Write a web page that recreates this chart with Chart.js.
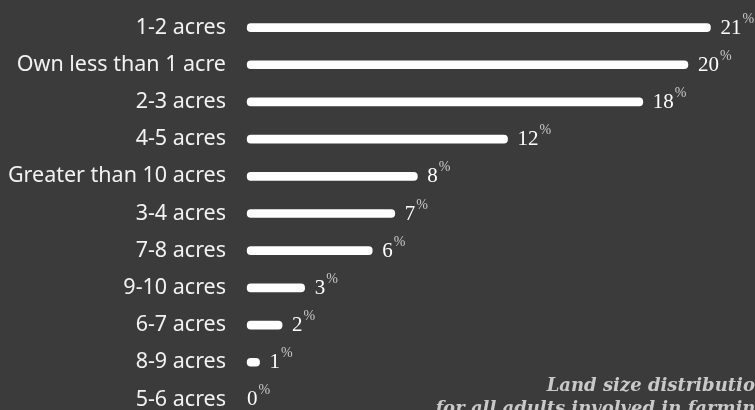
<!DOCTYPE html>
<html>
<head>
<meta charset="utf-8">
<script src="https://cdn.jsdelivr.net/npm/chart.js@4"></script>
<style>
  html, body { margin: 0; padding: 0; background: #3b3b3b; overflow: hidden; }
  #wrap { width: 755px; height: 430px; position: relative; }
</style>
</head>
<body>
<div id="wrap"><canvas id="landChart"></canvas></div>
<script>
// Land size categories, sorted as in the picture
const categories = ['1-2 acres', 'Own less than 1 acre', '2-3 acres', '4-5 acres', 'Greater than 10 acres',
  '3-4 acres', '7-8 acres', '9-10 acres', '6-7 acres', '8-9 acres', '5-6 acres'];
// share of adults (%)
const shares = [21, 20, 18, 12, 8, 7, 6, 3, 2, 1, 0];
const barStart = 0.45; // bars begin a little after zero

const captionLines = ['Land size distribution', 'for all adults involved in farming'];

// value labels: number + small superscript %
const valueLabels = {
  id: 'valueLabels',
  afterDatasetsDraw(chart) {
    const ctx = chart.ctx;
    const xs = chart.scales.x;
    const meta = chart.getDatasetMeta(0);
    ctx.save();
    shares.forEach((v, i) => {
      const y = meta.data[i].y;
      const x = xs.getPixelForValue(v) + 10;
      ctx.font = '21px "Liberation Serif"';
      ctx.fillStyle = '#ffffff';
      ctx.textAlign = 'left';
      ctx.textBaseline = 'alphabetic';
      ctx.fillText(String(v), x, y + 6);
      const w = ctx.measureText(String(v)).width;
      ctx.font = '14px "Liberation Serif"';
      ctx.fillStyle = '#c8c8c8';
      ctx.fillText('%', x + w + 1, y - 5);
    });
    // caption bottom right
    ctx.font = 'italic bold 18px "DejaVu Serif"';
    ctx.fillStyle = '#c9c9c9';
    ctx.textAlign = 'right';
    ctx.fillText(captionLines[0], 768, 391);
    ctx.fillText(captionLines[1], 768, 414);
    ctx.restore();
  }
};

const ctx = document.getElementById('landChart').getContext('2d');
const landChart = new Chart(ctx, {
  type: 'bar',
  data: {
    labels: categories,
    datasets: [{
      data: shares.map(v => v > 0 ? [Math.min(barStart, v), v] : null),
      backgroundColor: '#ffffff',
      borderWidth: 0,
      borderRadius: 4,
      borderSkipped: false,
      barThickness: 8
    }]
  },
  options: {
    indexAxis: 'y',
    responsive: true,
    maintainAspectRatio: false,
    animation: false,
    layout: { padding: { top: 9, bottom: 12, right: 22, left: 0 } },
    scales: {
      x: {
        min: 0,
        max: 22,
        display: false
      },
      y: {
        grid: { display: false, drawTicks: false },
        border: { display: false },
        ticks: {
          color: '#f2f2f2',
          padding: 11,
          font: { family: '"Noto Sans"', size: 21.5 }
        },
        afterFit(scale) {
          scale.width = 237;
          scale.paddingTop = 0;
          scale.paddingBottom = 0;
        }
      }
    },
    plugins: {
      legend: { display: false },
      tooltip: { enabled: false }
    }
  },
  plugins: [valueLabels]
});
</script>
</body>
</html>
